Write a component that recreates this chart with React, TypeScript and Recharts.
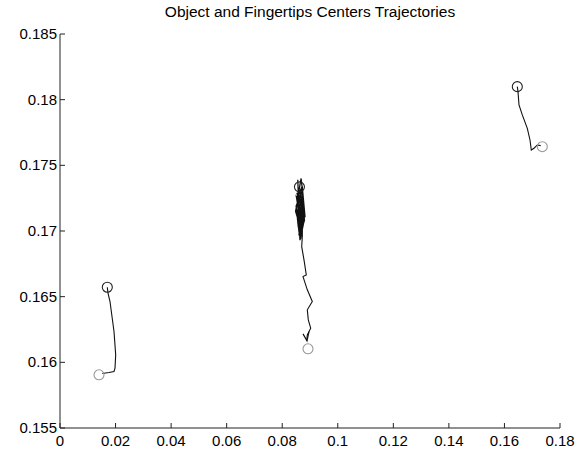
import React from "react";
import { ComposedChart, Line, Scatter, XAxis, YAxis } from "recharts";

const xTicks = [0, 0.02, 0.04, 0.06, 0.08, 0.1, 0.12, 0.14, 0.16, 0.18];
const yTicks = [0.155, 0.16, 0.165, 0.17, 0.175, 0.18, 0.185];

// left fingertip
const leftPath = [
  { x: 0.01523, y: 0.15915 },
  { x: 0.01764, y: 0.15922 },
  { x: 0.01944, y: 0.1593 },
  { x: 0.0198, y: 0.15956 },
  { x: 0.02005, y: 0.16057 },
  { x: 0.01944, y: 0.16235 },
  { x: 0.018, y: 0.16463 },
  { x: 0.01728, y: 0.16527 },
  { x: 0.01703, y: 0.16572 },
];

// right fingertip
const rightPath = [
  { x: 0.16463, y: 0.18099 },
  { x: 0.16488, y: 0.18061 },
  { x: 0.16524, y: 0.1796 },
  { x: 0.16643, y: 0.17884 },
  { x: 0.16823, y: 0.17782 },
  { x: 0.1692, y: 0.17693 },
  { x: 0.16967, y: 0.17617 },
  { x: 0.17064, y: 0.1763 },
  { x: 0.17183, y: 0.17655 },
  { x: 0.17305, y: 0.1765 },
];

// object center, lower part
const middlePath = [
  { x: 0.08724, y: 0.16963 },
  { x: 0.08701, y: 0.16881 },
  { x: 0.08784, y: 0.1678 },
  { x: 0.08867, y: 0.16666 },
  { x: 0.08748, y: 0.16653 },
  { x: 0.08903, y: 0.16552 },
  { x: 0.09083, y: 0.16463 },
  { x: 0.08903, y: 0.164 },
  { x: 0.08939, y: 0.16323 },
  { x: 0.09025, y: 0.1626 },
  { x: 0.08903, y: 0.16209 },
  { x: 0.0888, y: 0.16164 },
];

// object center, dense jitter near the top
const middleCluster = [
  { x: 0.0856, y: 0.1739 },
  { x: 0.0858, y: 0.1728 },
  { x: 0.0868, y: 0.1740 },
  { x: 0.0874, y: 0.1729 },
  { x: 0.0866, y: 0.1712 },
  { x: 0.0852, y: 0.1725 },
  { x: 0.0870, y: 0.1733 },
  { x: 0.0878, y: 0.1718 },
  { x: 0.0858, y: 0.1703 },
  { x: 0.0850, y: 0.1719 },
  { x: 0.0871, y: 0.1730 },
  { x: 0.0880, y: 0.1708 },
  { x: 0.0862, y: 0.1696 },
  { x: 0.0854, y: 0.1712 },
  { x: 0.0873, y: 0.1726 },
  { x: 0.0869, y: 0.1700 },
  { x: 0.0848, y: 0.1715 },
  { x: 0.0864, y: 0.1731 },
  { x: 0.0877, y: 0.1714 },
  { x: 0.0860, y: 0.1699 },
  { x: 0.0870, y: 0.1722 },
  { x: 0.0853, y: 0.1729 },
  { x: 0.0876, y: 0.1705 },
  { x: 0.0864, y: 0.1693 },
  { x: 0.0856, y: 0.1716 },
  { x: 0.0872, y: 0.1734 },
  { x: 0.0882, y: 0.1711 },
  { x: 0.0866, y: 0.1706 },
  { x: 0.0851, y: 0.1726 },
  { x: 0.0874, y: 0.1720 },
  { x: 0.0860, y: 0.1697 },
  { x: 0.0871, y: 0.1716 },
  { x: 0.0857, y: 0.1732 },
  { x: 0.0876, y: 0.1709 },
  { x: 0.0867, y: 0.1694 },
  { x: 0.0855, y: 0.1721 },
  { x: 0.0873, y: 0.1712 },
  { x: 0.0872, y: 0.1696 },
];

const middleArrow = [
  { x: 0.08748, y: 0.16217 },
  { x: 0.08892, y: 0.16164 },
  { x: 0.08964, y: 0.16233 },
];

const startPoints = [
  { x: 0.01404, y: 0.15905 },
  { x: 0.08928, y: 0.16103 },
  { x: 0.17363, y: 0.17642 },
];
const endPoints = [
  { x: 0.01703, y: 0.16572 },
  { x: 0.0862, y: 0.17336 },
  { x: 0.16463, y: 0.18099 },
];

const fmt = (v: number) => String(Number(v.toFixed(3)));
const axisColor = "#222";
const font = "'Liberation Sans', Arial, sans-serif";

const XTick = (props: any) => {
  const { x, y, payload } = props;
  return (
    <g>
      <line x1={x} y1={y} x2={x} y2={y - 5} stroke={axisColor} />
      <text x={x} y={y + 18} textAnchor="middle" fontSize={15} fontFamily={font} fill="#000">
        {fmt(payload.value)}
      </text>
    </g>
  );
};

const YTick = (props: any) => {
  const { x, y, payload } = props;
  return (
    <g>
      <line x1={x} y1={y} x2={x + 5} y2={y} stroke={axisColor} />
      <text x={x - 3} y={y + 5} textAnchor="end" fontSize={15} fontFamily={font} fill="#000">
        {fmt(payload.value)}
      </text>
    </g>
  );
};

const ring = (color: string, r: number) => (props: any) => (
  <circle cx={props.cx} cy={props.cy} r={r} fill="none" stroke={color} strokeWidth={1.1} />
);

export default function App() {
  return (
    <div style={{ position: "absolute", left: 0, top: 0, width: 582, height: 450, background: "#fff" }}>
      <div
        style={{
          position: "absolute",
          left: 60,
          width: 500,
          top: 3,
          textAlign: "center",
          fontFamily: font,
          fontSize: 15.5,
          color: "#000",
        }}
      >
        Object and Fingertips Centers Trajectories
      </div>
      <ComposedChart width={582} height={450} margin={{ top: 34, right: 22, bottom: 0, left: 0 }}>
        <XAxis
          type="number"
          dataKey="x"
          domain={[0, 0.18]}
          ticks={xTicks}
          allowDataOverflow
          height={22}
          tickSize={0}
          tickMargin={0}
          tickLine={false}
          axisLine={{ stroke: axisColor }}
          tick={<XTick />}
          interval={0}
        />
        <YAxis
          type="number"
          dataKey="y"
          domain={[0.155, 0.185]}
          ticks={yTicks}
          allowDataOverflow
          width={60}
          tickSize={0}
          tickMargin={0}
          tickLine={false}
          axisLine={{ stroke: axisColor }}
          tick={<YTick />}
          interval={0}
        />
        <Line data={leftPath} dataKey="y" stroke="#111" strokeWidth={1.1} dot={false} isAnimationActive={false} />
        <Line data={rightPath} dataKey="y" stroke="#111" strokeWidth={1.1} dot={false} isAnimationActive={false} />
        <Line data={middleCluster} dataKey="y" stroke="#111" strokeWidth={1.3} dot={false} isAnimationActive={false} />
        <Line data={middlePath} dataKey="y" stroke="#111" strokeWidth={1.1} dot={false} isAnimationActive={false} />
        <Line data={middleArrow} dataKey="y" stroke="#111" strokeWidth={1.2} dot={false} isAnimationActive={false} />
        <Scatter data={startPoints} dataKey="y" shape={ring("#999", 5)} isAnimationActive={false} />
        <Scatter data={endPoints} dataKey="y" shape={ring("#222", 5)} isAnimationActive={false} />
      </ComposedChart>
    </div>
  );
}
